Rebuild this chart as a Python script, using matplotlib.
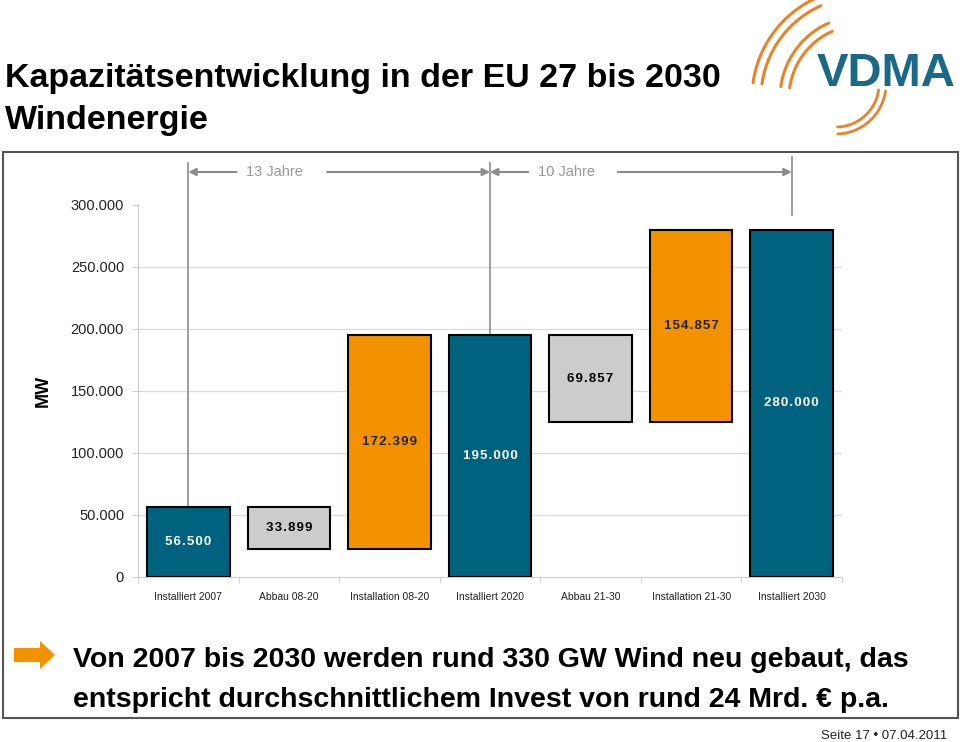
import numpy as np
import matplotlib
matplotlib.use('Agg')
import matplotlib.pyplot as plt
from matplotlib.patches import Rectangle, Polygon

# waterfall data (MW)
categories = ['Installiert 2007', 'Abbau 08-20', 'Installation 08-20', 'Installiert 2020',
              'Abbau 21-30', 'Installation 21-30', 'Installiert 2030']
values = [56500, 33899, 172399, 195000, 69857, 154857, 280000]
kinds = ['total', 'minus', 'plus', 'total', 'minus', 'plus', 'total']
value_labels = ['56.500', '33.899', '172.399', '195.000', '69.857', '154.857', '280.000']
ytick_values = [0, 50000, 100000, 150000, 200000, 250000, 300000]
ytick_labels = ['0', '50.000', '100.000', '150.000', '200.000', '250.000', '300.000']

BLUE = '#00627f'
ORANGE = '#f39200'
GREY = '#cccccc'
bar_colors = {'total': BLUE, 'minus': GREY, 'plus': ORANGE}
text_colors = {'total': 'white', 'minus': 'black', 'plus': '#222222'}

plt.rcParams['font.family'] = ['Liberation Sans', 'DejaVu Sans']

# running level for the waterfall
bottoms = []
level = 0
for v, k in zip(values, kinds):
    if k == 'total':
        bottoms.append(0)
        level = v
    elif k == 'minus':
        level -= v
        bottoms.append(level)
    else:
        bottoms.append(level)
        level += v

W, H = 960, 742
fig = plt.figure(figsize=(W / 100, H / 100), dpi=100)

# overlay in pixel coordinates for frame, title, logo, footer
bg = fig.add_axes([0, 0, 1, 1], zorder=0)
bg.set_xlim(0, W)
bg.set_ylim(H, 0)
bg.axis('off')
bg.add_patch(Rectangle((3, 152), 955, 566, fill=False, edgecolor='#555555', lw=1.5))

bg.text(5, 79, 'Kapazitätsentwicklung in der EU 27 bis 2030', fontsize=24.5, fontweight='bold',
        va='center', ha='left')
bg.text(5, 121, 'Windenergie', fontsize=24.5, fontweight='bold', va='center', ha='left')

# logo
bg.text(886, 74, 'VDMA', fontsize=34, fontweight='bold', color='#1a6a87', ha='center', va='center')
arc_col = '#e8832a'
for r in [110, 101, 82, 73]:
    t = np.radians(np.linspace(188, 246, 60))
    bg.plot(862 + r * np.cos(t), 98 + r * np.sin(t), color=arc_col, lw=2.2, solid_capstyle='round')
for r in [43, 50]:
    t = np.radians(np.linspace(8, 88, 60))
    bg.plot(836 + r * np.cos(t), 84 + r * np.sin(t), color=arc_col, lw=2.0, solid_capstyle='round')

# bottom statement
bg.add_patch(Polygon([(14, 648), (40, 648), (40, 641), (55, 655), (40, 669), (40, 662), (14, 662)],
                     closed=True, color=ORANGE, lw=0))
bg.text(73, 660, 'Von 2007 bis 2030 werden rund 330 GW Wind neu gebaut, das', fontsize=20.5,
        fontweight='bold', va='center')
bg.text(73, 700, 'entspricht durchschnittlichem Invest von rund 24 Mrd. € p.a.', fontsize=20.5,
        fontweight='bold', va='center')
bg.text(947, 736, 'Seite 17 • 07.04.2011', fontsize=9.5, ha='right', va='center', color='#222222')

# main chart
ax = fig.add_axes([138 / W, 165 / H, 704 / W, 372 / H], zorder=1)
ax.patch.set_alpha(0)
x = np.arange(len(categories))
ax.bar(x, values, bottom=bottoms, width=0.82, color=[bar_colors[k] for k in kinds],
       edgecolor='black', linewidth=1.5, zorder=3)
for xi, v, b, k, lab in zip(x, values, bottoms, kinds, value_labels):
    ax.text(xi, b + v / 2, '\u200a'.join(lab), ha='center', va='center', fontsize=9.5,
            fontweight='bold', color=text_colors[k], zorder=4)

ax.set_xlim(-0.5, len(categories) - 0.5)
ax.set_ylim(0, 300000)
ax.set_yticks(ytick_values)
ax.set_yticklabels(ytick_labels, fontsize=10.5, color='#222222')
ax.set_xticks(x)
ax.set_xticklabels(categories, fontsize=7.5, color='#222222')
ax.set_xticks(np.arange(len(categories) + 1) - 0.5, minor=True)
ax.tick_params(axis='x', which='major', length=0, pad=11)
ax.tick_params(axis='x', which='minor', length=4, color='#cccccc')
ax.tick_params(axis='y', length=4, color='#cccccc', pad=6)
for yv in ytick_values[1:-1]:
    ax.axhline(yv, color='#dddddd', lw=1, zorder=1)
for s in ['top', 'right']:
    ax.spines[s].set_visible(False)
ax.spines['left'].set_color('#cccccc')
ax.spines['bottom'].set_color('#cccccc')
ax.set_ylabel('MW', fontsize=13, fontweight='bold', labelpad=14)

# time span brackets
gcol = '#8c8c8c'
ax.plot([0, 0], [56500, 334000], color=gcol, lw=1.2, clip_on=False, zorder=2)
ax.plot([3, 3], [195000, 334000], color=gcol, lw=1.2, clip_on=False, zorder=2)
ax.plot([6, 6], [292000, 339000], color=gcol, lw=1.2, clip_on=False, zorder=2)
ya = 326600
arrow = dict(arrowstyle='-|>', color=gcol, lw=1.5, mutation_scale=11, shrinkA=0, shrinkB=0)
ax.annotate('', xy=(0, ya), xytext=(0.48, ya), arrowprops=arrow, annotation_clip=False)
ax.annotate('', xy=(3, ya), xytext=(1.38, ya), arrowprops=arrow, annotation_clip=False)
ax.text(0.86, ya, '13 Jahre', color='#999999', fontsize=10.5, ha='center', va='center', clip_on=False)
ax.annotate('', xy=(3, ya), xytext=(3.38, ya), arrowprops=arrow, annotation_clip=False)
ax.annotate('', xy=(6, ya), xytext=(4.27, ya), arrowprops=arrow, annotation_clip=False)
ax.text(3.76, ya, '10 Jahre', color='#999999', fontsize=10.5, ha='center', va='center', clip_on=False)

fig.savefig('out.png', dpi=100)
